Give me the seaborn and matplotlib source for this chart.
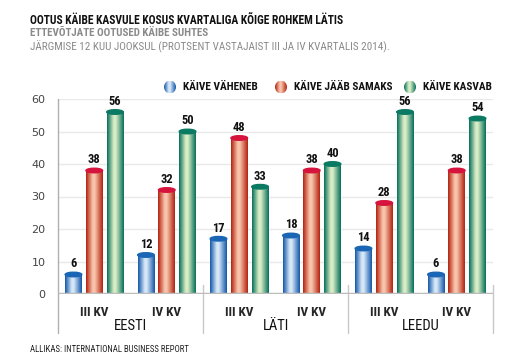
import numpy as np
import pandas as pd
import matplotlib
matplotlib.use('Agg')
import matplotlib.pyplot as plt
import seaborn as sns
from matplotlib.colors import LinearSegmentedColormap
from matplotlib.patches import Ellipse, Circle

countries = ['EESTI', 'LÄTI', 'LEEDU']
quarters = ['III KV', 'IV KV']
series = ['KÄIVE VÄHENEB', 'KÄIVE JÄÄB SAMAKS', 'KÄIVE KASVAB']
vaheneb = [6, 12, 17, 18, 14, 6]
samaks = [38, 32, 48, 38, 28, 38]
kasvab = [56, 50, 33, 40, 56, 54]

# kolm tooni silindrile: serv, keskosa, kaas
shades = {
    'KÄIVE VÄHENEB': ('#1457a8', '#d6e8f8', '#1a66b5'),
    'KÄIVE JÄÄB SAMAKS': ('#b3230f', '#f9c4ac', '#d6133c'),
    'KÄIVE KASVAB': ('#06705a', '#d9edc6', '#0b7a62'),
}

periods = [f'{c} {q}' for c in countries for q in quarters]
df = pd.DataFrame({
    'period': periods * 3,
    'series': np.repeat(series, len(periods)),
    'value': vaheneb + samaks + kasvab,
})

sns.set_style('white')
plt.rcParams['font.family'] = ['Roboto Condensed', 'Liberation Sans Narrow', 'DejaVu Sans']

fig = plt.figure(figsize=(5.29, 3.64), dpi=100)
ax = fig.add_axes([58 / 529, 70 / 364, 435 / 529, 195 / 364])

pal = {s: shades[s][0] for s in series}
sns.barplot(data=df, x='period', y='value', hue='series', order=periods,
            hue_order=series, palette=pal, width=0.86, gap=0.2,
            legend=False, ax=ax, zorder=2)


def cyl_cmap(s):
    edge, mid, _ = shades[s]
    return LinearSegmentedColormap.from_list(
        s, [(0, edge), (0.4, mid), (0.52, mid), (1, edge)])


grad = np.linspace(0, 1, 64).reshape(1, -1)
for cont, s in zip(ax.containers, series):
    cmap = cyl_cmap(s)
    for p in cont:
        x0, w, h = p.get_x(), p.get_width(), p.get_height()
        p.set_alpha(0)
        ax.imshow(grad, cmap=cmap, extent=[x0, x0 + w, 0, h],
                  aspect='auto', zorder=3)
        ax.add_patch(Ellipse((x0 + w / 2, h), w, 1.4, color=shades[s][2],
                             zorder=4))
    ax.bar_label(cont, labels=[f'{int(v)}' for v in cont.datavalues],
                 padding=3, fontsize=9, fontweight='bold', color='#111111',
                 zorder=5)

ax.set_xlim(-0.5, 5.5)
ax.set_ylim(0, 60)
ax.set_yticks(range(0, 61, 10))
ax.tick_params(axis='y', length=6, color='#b0b0b0', labelcolor='#444444',
               pad=3, width=1)
for lab in ax.get_yticklabels():
    lab.set_family('DejaVu Sans')
    lab.set_fontsize(8)
ax.grid(axis='y', color='#e9e9e9', lw=1, zorder=0)
ax.axhline(0, color='#bcbcbc', lw=2.5, zorder=6)
for sp in ax.spines.values():
    sp.set_visible(False)

ax.set_xticks(range(6))
ax.set_xticklabels(quarters * 3, fontsize=9.5, fontweight='bold')
ax.tick_params(axis='x', length=0, pad=9)
ax.set_xlabel('')
ax.set_ylabel('')

for i, c in enumerate(countries):
    ax.text(2 * i + 0.5, -0.165, c, transform=ax.get_xaxis_transform(),
            ha='center', va='center', fontsize=10.5, color='#111111')

ax.plot([-0.5, -0.5], [-0.2, 1], transform=ax.get_xaxis_transform(),
        color='#b0b0b0', lw=1, clip_on=False)
for xs in [1.5, 3.5, 5.5]:
    ax.plot([xs, xs], [0.045, -0.2], transform=ax.get_xaxis_transform(),
            color='#c8c8c8', lw=1, clip_on=False)

# pealkirjad
fig.text(30 / 529, 1 - 20 / 364, 'OOTUS KÄIBE KASVULE KOSUS KVARTALIGA KÕIGE ROHKEM LÄTIS',
         fontsize=8.3, fontweight='bold', color='#111111', va='center')
fig.text(30 / 529, 1 - 33 / 364, 'ETTEVÕTJATE OOTUSED KÄIBE SUHTES',
         fontsize=7.9, fontweight='bold', color='#8a8a8a', va='center')
fig.text(30 / 529, 1 - 47 / 364,
         'JÄRGMISE 12 KUU JOOKSUL (PROTSENT VASTAJAIST III JA IV KVARTALIS 2014).',
         fontsize=8, color='#8a8a8a', va='center')
fig.text(30 / 529, 1 - 350 / 364, 'ALLIKAS: INTERNATIONAL BUSINESS REPORT',
         fontsize=6.3, color='#222222', va='center')

# legend
leg_x = [170, 281, 410]
for s, lx in zip(series, leg_x):
    lax = fig.add_axes([(lx - 6) / 529, 1 - (87 + 6.5) / 364, 12 / 529, 13 / 364])
    im = lax.imshow(grad, cmap=cyl_cmap(s), extent=[0, 1, 0, 1], aspect='auto')
    circ = Ellipse((0.5, 0.5), 1, 1, transform=lax.transData)
    im.set_clip_path(circ)
    lax.set_xlim(0, 1)
    lax.set_ylim(0, 1)
    lax.axis('off')
    fig.text((lx + 13) / 529, 1 - 87 / 364, s, fontsize=8.1,
             fontweight='bold', color='#111111', va='center')

fig.savefig('out.png', dpi=100)
